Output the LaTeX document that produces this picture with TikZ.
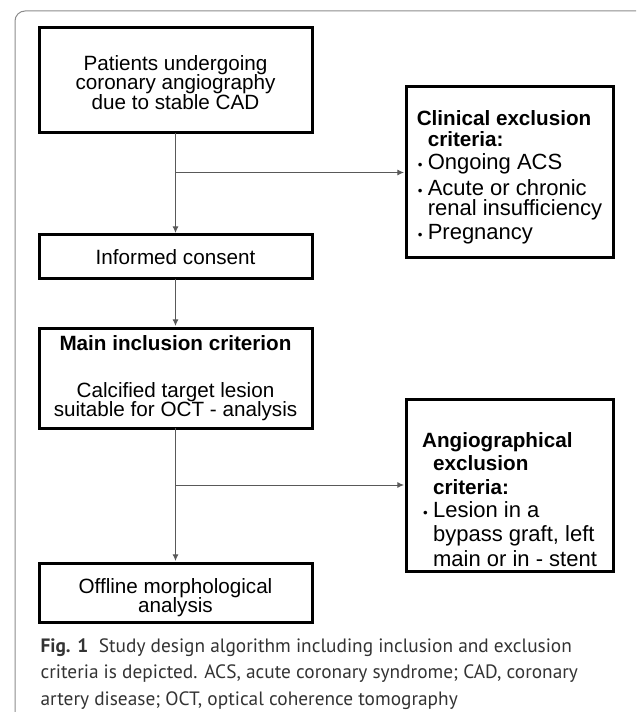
\documentclass[tikz,border=0pt]{standalone}
\usepackage{fontspec}
\setmainfont{Liberation Sans}
\newfontfamily\capfont{PT Sans}
\usetikzlibrary{calc,positioning,arrows.meta}
\tikzset{
  line/.style     = {-{Latex[length=5pt,width=4.5pt]}, line width=0.75pt, draw=black!65, shorten >=1.5pt},
  box/.style      = {draw, line width=2.25pt, outer sep=0pt, align=center, inner sep=2pt,
                     font=\fontsize{15.5pt}{14.6pt}\selectfont},
  mainbox/.style  = {box, minimum width=204.75pt},
  sidebox/.style  = {box, align=left, minimum width=155.25pt, font=\fontsize{16.5pt}{15pt}\selectfont},
  caption/.style  = {align=left, text=black!80, inner sep=0pt,
                     font=\capfont\fontsize{14.5pt}{19.9pt}\selectfont},
  frame/.style    = {draw=black!45, line width=0.75pt, rounded corners=7.5pt},
}
\newcommand{\critbullet}{\makebox[8.25pt][l]{\hspace{0.75pt}\fontsize{10pt}{10pt}\selectfont\textbullet}}
\newcommand{\critindent}{\hspace*{8.25pt}}
\newcommand{\crithead}[1]{{\fontsize{15.5pt}{15pt}\selectfont\bfseries #1}}

\begin{document}
\begin{tikzpicture}[x=0.75pt, y=-0.75pt]
  \useasboundingbox (0,0) rectangle (636,712);
  \draw[frame] (15,712) -- (15,11) -- (636,11);

  % main flow
  \node[mainbox, minimum height=78.75pt] (patients) at (175.5,80.5)
    {\rule{0pt}{14pt}Patients undergoing\\coronary angiography\\due to stable CAD};
  \node[mainbox, minimum height=33pt, below=76.5pt of patients] (consent) {Informed consent};
  \node[mainbox, minimum height=75pt, below=36.75pt of consent] (inclusion)
    {\textbf{Main inclusion criterion}\\[20.6pt]Calcified target lesion\\suitable for OCT - analysis};
  \node[mainbox, minimum height=44.25pt, below=101.25pt of inclusion] (offline)
    {\rule{0pt}{18.75pt}Offline morphological\\analysis};

  % exclusion boxes
  \node[sidebox, minimum height=128.25pt, anchor=north west] (clinexcl)
    at ($(patients.north east)+(70.5pt,-44.25pt)$)
    {\rule{0pt}{18.75pt}\crithead{Clinical exclusion}\\[0.5pt]
     \critindent\crithead{criteria:}\\[2.6pt]
     \critbullet Ongoing ACS\\[2.6pt]
     \critbullet Acute or chronic\\
     \critindent renal insufficiency\\[3.5pt]
     \critbullet Pregnancy};
  \node[sidebox, minimum height=129pt, below=105.75pt of clinexcl] (angioexcl)
    {\rule{0pt}{33pt}\crithead{Angiographical}\\[2.6pt]
     \critindent\crithead{exclusion}\\[2.6pt]
     \critindent\crithead{criteria:}\\[2.6pt]
     \critbullet Lesion in a\\[2.6pt]
     \critindent bypass graft, left\\[2.6pt]
     \critindent main or in - stent};

  \draw[line] (patients) -- (consent);
  \draw[line] (clinexcl.west -| patients.south) -- (clinexcl.west);
  \draw[line] (consent) -- (inclusion);
  \draw[line] (inclusion) -- (offline);
  \draw[line] (angioexcl.west -| inclusion.south) -- (angioexcl.west);

  \node[caption, anchor=north west] (caption) at ([shift={(1pt,-12pt)}]offline.south west)
    {\textbf{Fig. 1}\hspace{0.55em}Study design algorithm including inclusion and exclusion\\
     criteria is depicted. ACS, acute coronary syndrome; CAD, coronary\\
     artery disease; OCT, optical coherence tomography};
\end{tikzpicture}
\end{document}
